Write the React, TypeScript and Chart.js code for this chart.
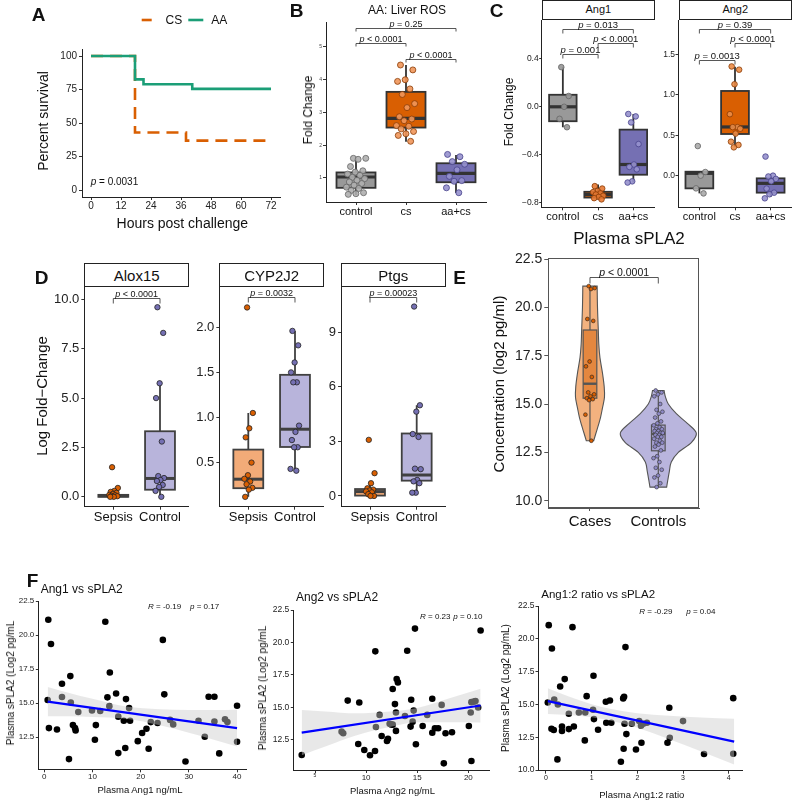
import React, { useEffect, useRef } from "react";
import { Chart, registerables } from "chart.js";

Chart.register(...registerables);

const FONT = "'Liberation Sans', Arial, Helvetica, sans-serif";
const CW = 792;
const CH = 800;

// ======================= DATA =======================
// ---- A: survival ----
const survHourTicks = [0, 12, 24, 36, 48, 60, 72];
const survPctTicks = [0, 25, 50, 75, 100];
const csHours = [0, 17.6, 38, 72];
const csSurvival = [100, 43, 37, 37];
const aaHours = [0, 17.6, 21, 40.5, 72];
const aaSurvival = [100, 82.6, 79, 75.5, 75.5];

// ---- B: AA liver ROS ----
const treatGroups = ["control", "cs", "aa+cs"];
const rosTicks = [1, 2, 3, 4, 5];
const rosControl = [1.6, 1.6, 1.57, 1.35, 1.22, 1.18, 1.12, 1.08, 1.02, 0.98, 0.93, 0.88, 0.83, 0.78, 0.72, 0.68, 0.62, 0.55, 0.52, 0.5];
const rosCs = [4.45, 4.3, 4.0, 3.95, 3.72, 3.55, 3.27, 3.15, 2.87, 2.8, 2.75, 2.6, 2.58, 2.5, 2.42, 2.35, 2.3, 2.12];
const rosAaCs = [1.72, 1.65, 1.5, 1.42, 1.25, 1.05, 0.92, 0.9, 0.7, 0.55];
const rosQ1 = [0.7, 2.54, 0.87];
const rosMedian = [1.03, 2.82, 1.14];
const rosQ3 = [1.17, 3.63, 1.45];
const rosLow = [0.48, 2.11, 0.54];
const rosHigh = [1.57, 4.45, 1.7];
const rosBrackets = [
  { from: 0, to: 2, y: 5.57, text: "= 0.25" },
  { from: 0, to: 1, y: 5.11, text: "< 0.0001" },
  { from: 1, to: 2, y: 4.62, text: "< 0.0001" },
];

// ---- C: Ang1 / Ang2 ----
const ang1Ticks = [-0.8, -0.4, 0, 0.4];
const ang1TickLabels = ["\u22120.8", "\u22120.4", "0.0", "0.4"];
const ang1Control = [0.33, 0.09, 0.0, -0.1, -0.17];
const ang1Cs = [-0.66, -0.68, -0.7, -0.71, -0.72, -0.73, -0.74, -0.75, -0.76, -0.77];
const ang1AaCs = [-0.06, -0.08, -0.13, -0.31, -0.48, -0.5, -0.52, -0.62, -0.63];
const ang1Q1 = [-0.12, -0.755, -0.565];
const ang1Median = [0.0, -0.73, -0.48];
const ang1Q3 = [0.1, -0.707, -0.19];
const ang1Low = [-0.17, -0.77, -0.63];
const ang1High = [0.33, -0.646, -0.06];
const ang1Brackets = [
  { from: 0, to: 2, y: 0.643, text: "= 0.013" },
  { from: 1, to: 2, y: 0.527, text: "< 0.0001" },
  { from: 0, to: 1, y: 0.436, text: "= 0.001" },
];

const ang2Ticks = [0, 0.5, 1.0, 1.5];
const ang2TickLabels = ["0.0", "0.5", "1.0", "1.5"];
const ang2Control = [0.366, 0.045, 0.0, -0.157, -0.219];
const ang2Cs = [1.35, 1.31, 1.13, 0.76, 0.6, 0.6, 0.58, 0.52, 0.42, 0.38, 0.35];
const ang2AaCs = [0.236, 0.0, -0.01, -0.04, -0.07, -0.16, -0.21, -0.23, -0.28];
const ang2Q1 = [-0.157, 0.515, -0.21];
const ang2Median = [0.029, 0.602, -0.095];
const ang2Q3 = [0.049, 1.047, -0.033];
const ang2Low = [-0.219, 0.358, -0.26];
const ang2High = [0.049, 1.347, 0.02];
const ang2Brackets = [
  { from: 0, to: 2, y: 1.81, text: "= 0.39" },
  { from: 1, to: 2, y: 1.636, text: "< 0.0001" },
  { from: 0, to: 1, y: 1.43, text: "= 0.0013" },
];

// ---- D: Alox15 / CYP2J2 / Ptgs ----
const sepsisGroups = ["Sepsis", "Control"];
const alox15Ticks = [0, 2.5, 5, 7.5, 10];
const alox15TickLabels = ["0.0", "2.5", "5.0", "7.5", "10.0"];
const alox15Sepsis = [1.5, 0.45, 0.3, 0.25, 0.2, 0.15, 0.1, 0.08, 0.05, 0.03, 0.0, 0.0];
const alox15Control = [9.6, 8.3, 5.75, 5.0, 2.8, 1.05, 0.95, 0.85, 0.8, 0.6, 0.5, 0.3, 0.0];
const alox15Q1 = [0.0, 0.36];
const alox15Median = [0.05, 0.93];
const alox15Q3 = [0.1, 3.32];
const alox15Low = [0.0, 0.0];
const alox15High = [0.2, 5.75];
const alox15Brackets = [{ from: 0, to: 1, y: 10.09, text: "< 0.0001" }];

const cypTicks = [0.5, 1.0, 1.5, 2.0];
const cypTickLabels = ["0.5", "1.0", "1.5", "2.0"];
const cypSepsis = [2.22, 1.05, 0.88, 0.78, 0.5, 0.36, 0.32, 0.29, 0.26, 0.22, 0.2, 0.12];
const cypControl = [1.96, 1.8, 1.61, 1.5, 1.39, 1.39, 0.91, 0.84, 0.75, 0.67, 0.67, 0.43, 0.41];
const cypQ1 = [0.216, 0.673];
const cypMedian = [0.316, 0.87];
const cypQ3 = [0.644, 1.473];
const cypLow = [0.12, 0.41];
const cypHigh = [1.05, 1.96];
const cypBrackets = [{ from: 0, to: 1, y: 2.34, text: "= 0.0032" }];

const ptgsTicks = [0, 3, 6, 9];
const ptgsTickLabels = ["0", "3", "6", "9"];
const ptgsSepsis = [3.08, 1.25, 0.7, 0.42, 0.35, 0.3, 0.25, 0.2, 0.1, 0.0, 0.0];
const ptgsControl = [10.4, 4.98, 4.63, 3.4, 3.24, 1.5, 1.47, 0.88, 0.8, 0.7, 0.18, 0.18];
const ptgsQ1 = [0.02, 0.84];
const ptgsMedian = [0.24, 1.15];
const ptgsQ3 = [0.38, 3.43];
const ptgsLow = [0.0, 0.18];
const ptgsHigh = [0.75, 4.98];
const ptgsBrackets = [{ from: 0, to: 1, y: 10.94, text: "= 0.00023" }];

// ---- E: plasma sPLA2 ----
const plasmaGroups = ["Cases", "Controls"];
const plasmaTicks = [10, 12.5, 15, 17.5, 20, 22.5];
const plasmaTickLabels = ["10.0", "12.5", "15.0", "17.5", "20.0", "22.5"];
const plasmaCases = [21.1, 21.0, 20.95, 19.4, 19.3, 17.2, 16.95, 16.4, 15.6, 15.5, 15.4, 15.3, 15.25, 15.2, 14.45, 13.1];
const plasmaControls = [15.7, 15.6, 15.5, 15.4, 15.0, 14.7, 14.6, 14.5, 14.3, 14.1, 14.0, 13.9, 13.8, 13.7, 13.7, 13.6, 13.6, 13.5, 13.5, 13.5, 13.4, 13.4, 13.3, 13.3, 13.2, 13.1, 13.0, 13.0, 12.9, 12.8, 12.6, 12.3, 12.2, 12.0, 11.7, 11.6, 11.3, 11.2, 10.9, 10.7];
const plasmaQ1 = [15.3, 12.58];
const plasmaMedian = [16.05, 13.45];
const plasmaQ3 = [18.83, 13.91];
const plasmaLow = [13.1, 10.7];
const plasmaHigh = [21.1, 15.7];
const casesDensityLevels = [13.1, 13.5, 13.75, 14.3, 14.8, 15.35, 15.9, 16.6, 17.4, 18.1, 18.8, 20.0, 21.1];
const casesDensityWidth = [0.054, 0.088, 0.11, 0.154, 0.183, 0.212, 0.208, 0.183, 0.146, 0.129, 0.122, 0.11, 0.105];
const controlsDensityLevels = [10.7, 11.0, 11.5, 12.0, 12.5, 13.0, 13.5, 14.0, 14.5, 15.0, 15.4, 15.7];
const controlsDensityWidth = [0.122, 0.136, 0.161, 0.19, 0.293, 0.483, 0.556, 0.425, 0.264, 0.146, 0.102, 0.085];
const plasmaBrackets = [{ from: 0, to: 1, y: 21.58, text: "< 0.0001" }];

// ---- F: correlations ----
const splaTicks = [12.5, 15, 17.5, 20, 22.5];
const splaTickLabels = ["12.5", "15.0", "17.5", "20.0", "22.5"];
const splaTicks3 = [10, 12.5, 15, 17.5, 20, 22.5];
const splaTickLabels3 = ["10.0", "12.5", "15.0", "17.5", "20.0", "22.5"];

const ang1NgTicks = [0, 10, 20, 30, 40];
const ang1Ng = [0.83, 1.39, 0.7, 0.96, 2.63, 3.67, 3.67, 5.12, 5.4, 5.5, 5.94, 6.37, 6.5, 7.05, 9.9, 10.5, 10.7, 11.6, 12.66, 13.1, 13.6, 13.5, 14.9, 15.35, 15.35, 16.5, 16.95, 16.8, 17.6, 17.8, 19.4, 20.3, 21.2, 21.65, 22.1, 23.5, 24.6, 24.9, 26.1, 26.75, 29.3, 32.0, 33.3, 34.1, 35.3, 36.3, 35.3, 37.5, 38.0, 40.0, 40.0];
const ang1Spla = [21.12, 19.34, 15.22, 13.16, 13.06, 16.42, 15.44, 10.88, 16.98, 15.04, 13.38, 13.16, 12.99, 14.34, 14.46, 12.3, 13.38, 14.41, 20.98, 15.42, 17.25, 14.77, 15.7, 14.0, 11.32, 13.7, 15.29, 11.7, 14.63, 13.7, 12.2, 12.8, 13.11, 11.64, 13.6, 13.53, 19.64, 15.64, 13.76, 13.43, 10.7, 13.7, 12.52, 15.46, 15.46, 11.3, 13.64, 13.8, 13.6, 14.8, 12.16];
const ang1FitX = [0.7, 40];
const ang1FitY = [15.1, 13.15];
const ang1BandX = [0.7, 5, 10, 17, 24, 30, 35, 40];
const ang1BandLo = [14.02, 14.02, 13.97, 13.84, 13.36, 12.81, 12.32, 11.8];
const ang1BandHi = [16.18, 15.76, 15.31, 14.74, 14.54, 14.49, 14.48, 14.5];

const ang2NgTicks = [5, 10, 15, 20];
const ang2Ng = [3.7, 7.6, 7.76, 8.2, 9.33, 9.23, 9.82, 10.38, 10.9, 10.87, 10.96, 11.32, 11.52, 12.04, 12.14, 12.3, 12.45, 12.6, 12.6, 12.82, 12.92, 12.99, 13.11, 12.92, 13.8, 14.02, 14.35, 14.41, 14.65, 14.55, 14.78, 14.87, 15.53, 15.98, 16.47, 16.47, 16.73, 17.05, 17.39, 17.6, 17.77, 18.4, 20.05, 20.23, 20.3, 20.3, 20.54, 20.7, 20.96, 21.2];
const ang2Spla = [11.34, 13.14, 13.02, 15.53, 15.38, 12.19, 11.73, 11.32, 19.32, 11.65, 13.5, 14.43, 12.81, 12.42, 12.6, 13.74, 13.7, 13.68, 16.42, 15.26, 14.61, 17.19, 16.93, 13.2, 14.35, 19.37, 13.53, 15.59, 14.76, 13.91, 21.07, 12.17, 13.58, 14.43, 15.67, 13.06, 13.4, 13.4, 15.2, 10.7, 13.02, 13.09, 13.58, 14.61, 10.88, 15.41, 15.45, 15.5, 15.0, 20.92];
const ang2FitX = [3.7, 21.2];
const ang2FitY = [13.07, 15.15];
const ang2BandX = [3.7, 6, 9, 12.3, 15, 18, 21.2];
const ang2BandLo = [11.33, 11.99, 12.85, 13.49, 13.86, 13.87, 13.85];
const ang2BandHi = [14.81, 14.69, 14.55, 14.69, 14.96, 15.67, 16.45];

const ratioTicks = [0, 1, 2, 3, 4];
const ratio = [0.06, 0.13, 0.04, 0.18, 0.26, 0.12, 0.17, 0.25, 0.31, 0.41, 0.35, 0.35, 0.5, 0.5, 0.61, 0.58, 0.72, 0.86, 0.85, 0.89, 1.03, 1.05, 1.04, 1.14, 1.31, 1.4, 1.32, 1.43, 1.64, 1.69, 1.71, 1.74, 1.7, 1.72, 1.76, 1.88, 1.97, 2.04, 2.09, 2.08, 2.13, 2.21, 2.66, 2.7, 2.71, 3.0, 3.46, 4.1, 4.1];
const ratioSpla = [21.04, 19.26, 15.15, 15.38, 15.0, 13.15, 13.05, 10.81, 16.37, 16.93, 13.32, 12.97, 14.29, 13.12, 13.32, 20.89, 14.39, 14.39, 12.26, 15.63, 14.59, 13.88, 17.18, 13.07, 15.2, 15.3, 13.6, 13.6, 10.63, 15.46, 15.58, 19.37, 11.62, 13.53, 12.74, 13.53, 11.57, 13.73, 12.08, 13.38, 13.53, 13.6, 12.08, 14.75, 12.46, 13.73, 11.22, 15.48, 11.24];
const ratioFitX = [0.04, 4.12];
const ratioFitY = [15.25, 12.16];
const ratioBandX = [0.04, 0.5, 1.0, 1.4, 2.0, 2.7, 3.4, 4.12];
const ratioBandLo = [14.27, 14.2, 14.02, 13.77, 13.22, 12.34, 11.41, 10.42];
const ratioBandHi = [16.23, 15.6, 15.02, 14.67, 14.32, 14.14, 14.01, 13.9];

// ======================= HELPERS =======================
type Area = { l: number; t: number; r: number; b: number };
type AxisSpec = {
  min: number;
  max: number;
  ticks: number[];
  labels: string[];
  size: number;
  tl?: number;
  pad?: number;
  color?: string;
  line?: string;
  sizeFor?: (v: number) => number;
};
type Bracket = { from: number; to: number; y: number; text: string };

const ORANGE = "#d95f02";
const PURPLE = "#7570b3";
const GREEN = "#1b9e77";

function jitter(k: number): number {
  return ((k * 0.6180339887 + 0.37) % 1) * 2 - 1;
}

// room = size of the scale box (space between canvas edge and plot area)
function makeScale(axis: "x" | "y", a: AxisSpec, room: number) {
  return {
    type: "linear",
    position: axis === "x" ? "bottom" : "left",
    bounds: "data",
    min: a.min,
    max: a.max,
    afterBuildTicks: (s: any) => {
      s.ticks = a.ticks.map((v) => ({ value: v }));
    },
    afterFit: (s: any) => {
      if (axis === "x") s.height = room;
      else s.width = room;
      s.paddingLeft = 0;
      s.paddingRight = 0;
      s.paddingTop = 0;
      s.paddingBottom = 0;
    },
    grid: {
      display: true,
      drawOnChartArea: false,
      drawTicks: true,
      tickLength: a.tl ?? 3,
      color: a.line ?? "#333",
      lineWidth: 1,
    },
    border: { display: true, color: a.line ?? "#222", width: 1 },
    ticks: {
      autoSkip: false,
      maxRotation: 0,
      minRotation: 0,
      padding: a.pad ?? 1,
      color: a.color ?? "#222",
      font: (ctx: any) => ({
        family: FONT,
        size: a.sizeFor && ctx && ctx.tick ? a.sizeFor(ctx.tick.value) : a.size,
      }),
      callback: (_v: any, i: number) => a.labels[i] ?? "",
    },
  };
}

function baseOptions(area: Area, xa: AxisSpec, ya: AxisSpec) {
  return {
    responsive: false,
    maintainAspectRatio: false,
    animation: false,
    events: [],
    devicePixelRatio: 1,
    layout: {
      autoPadding: false,
      padding: { left: 0, top: area.t, right: CW - area.r, bottom: 0 },
    },
    plugins: { legend: { display: false }, tooltip: { enabled: false }, title: { display: false } },
    scales: { x: makeScale("x", xa, CH - area.b), y: makeScale("y", ya, area.l) },
  };
}

function splineThrough(ctx: CanvasRenderingContext2D, pts: number[][]) {
  for (let i = 0; i < pts.length - 1; i++) {
    const p0 = pts[Math.max(0, i - 1)];
    const p1 = pts[i];
    const p2 = pts[i + 1];
    const p3 = pts[Math.min(pts.length - 1, i + 2)];
    ctx.bezierCurveTo(
      p1[0] + (p2[0] - p0[0]) / 6,
      p1[1] + (p2[1] - p0[1]) / 6,
      p2[0] - (p3[0] - p1[0]) / 6,
      p2[1] - (p3[1] - p1[1]) / 6,
      p2[0],
      p2[1]
    );
  }
}

type Violin = { levels: number[]; widths: number[]; fill: string };

type CatSpec = {
  area: Area;
  xMin: number;
  xMax: number;
  cats: string[];
  xSize: number;
  xPad?: number;
  y: AxisSpec;
  groups: number[][];
  q1: number[];
  med: number[];
  q3: number[];
  lo: number[];
  hi: number[];
  boxFill: string[];
  boxHalf: number;
  boxStroke: string;
  boxLw: number;
  medLw: number;
  ptFill: string[];
  ptStroke: string[];
  ptR: number;
  ptLw: number;
  jit: number;
  brackets: Bracket[];
  pSize: number;
  tip: number;
  violins?: Violin[];
  frame?: boolean;
};

function boxPlugin(s: CatSpec) {
  return {
    id: "boxes",
    beforeDatasetsDraw(chart: any) {
      const ctx: CanvasRenderingContext2D = chart.ctx;
      const x = chart.scales.x;
      const y = chart.scales.y;
      ctx.save();
      if (s.violins) {
        s.violins.forEach((v, i) => {
          const right = v.levels.map((lv, k) => [x.getPixelForValue(i + v.widths[k]), y.getPixelForValue(lv)]);
          const left = v.levels
            .map((lv, k) => [x.getPixelForValue(i - v.widths[k]), y.getPixelForValue(lv)])
            .reverse();
          ctx.beginPath();
          ctx.moveTo(right[0][0], right[0][1]);
          splineThrough(ctx, right);
          ctx.lineTo(left[0][0], left[0][1]);
          splineThrough(ctx, left);
          ctx.closePath();
          ctx.fillStyle = v.fill;
          ctx.fill();
          ctx.strokeStyle = "#555";
          ctx.lineWidth = 1.1;
          ctx.stroke();
        });
      }
      for (let i = 0; i < s.q1.length; i++) {
        const xc = x.getPixelForValue(i);
        const xl = x.getPixelForValue(i - s.boxHalf);
        const xr = x.getPixelForValue(i + s.boxHalf);
        const yq1 = y.getPixelForValue(s.q1[i]);
        const yq3 = y.getPixelForValue(s.q3[i]);
        const ym = y.getPixelForValue(s.med[i]);
        const ylo = y.getPixelForValue(s.lo[i]);
        const yhi = y.getPixelForValue(s.hi[i]);
        ctx.strokeStyle = s.boxStroke;
        ctx.lineWidth = s.boxLw;
        ctx.beginPath();
        ctx.moveTo(xc, yhi);
        ctx.lineTo(xc, yq3);
        ctx.moveTo(xc, yq1);
        ctx.lineTo(xc, ylo);
        ctx.stroke();
        ctx.fillStyle = s.boxFill[i];
        ctx.fillRect(xl, yq3, xr - xl, yq1 - yq3);
        ctx.strokeRect(xl, yq3, xr - xl, yq1 - yq3);
        ctx.lineWidth = s.medLw;
        ctx.beginPath();
        ctx.moveTo(xl, ym);
        ctx.lineTo(xr, ym);
        ctx.stroke();
      }
      ctx.restore();
    },
  };
}

function bracketPlugin(list: Bracket[], size: number, tip: number) {
  return {
    id: "brackets",
    afterDatasetsDraw(chart: any) {
      const ctx: CanvasRenderingContext2D = chart.ctx;
      const x = chart.scales.x;
      const y = chart.scales.y;
      ctx.save();
      ctx.strokeStyle = "#444";
      ctx.lineWidth = 0.9;
      ctx.fillStyle = "#111";
      ctx.textAlign = "left";
      ctx.textBaseline = "alphabetic";
      for (const br of list) {
        const xa = x.getPixelForValue(br.from);
        const xb = x.getPixelForValue(br.to);
        const yy = Math.round(y.getPixelForValue(br.y)) + 0.5;
        ctx.beginPath();
        ctx.moveTo(xa, yy + tip);
        ctx.lineTo(xa, yy);
        ctx.lineTo(xb, yy);
        ctx.lineTo(xb, yy + tip);
        ctx.stroke();
        const fI = `italic ${size}px ${FONT}`;
        const fN = `${size}px ${FONT}`;
        ctx.font = fI;
        const w1 = ctx.measureText("p").width;
        const rest = " " + br.text;
        ctx.font = fN;
        const w2 = ctx.measureText(rest).width;
        const sx = (xa + xb) / 2 - (w1 + w2) / 2;
        ctx.font = fI;
        ctx.fillText("p", sx, yy - 2);
        ctx.font = fN;
        ctx.fillText(rest, sx + w1, yy - 2);
      }
      ctx.restore();
    },
  };
}

const framePlugin = {
  id: "frame",
  afterDatasetsDraw(chart: any) {
    const { ctx, chartArea } = chart;
    ctx.save();
    ctx.strokeStyle = "#555";
    ctx.lineWidth = 1;
    ctx.strokeRect(
      Math.round(chartArea.left) + 0.5,
      Math.round(chartArea.top) + 0.5,
      Math.round(chartArea.right - chartArea.left) - 1,
      Math.round(chartArea.bottom - chartArea.top) - 1
    );
    ctx.restore();
  },
};

function catConfig(s: CatSpec) {
  const datasets = s.groups.map((vals, g) => ({
    type: "scatter",
    data: vals.map((v, k) => ({ x: g + jitter(k + g * 3) * s.jit, y: v })),
    pointRadius: s.ptR,
    pointBackgroundColor: s.ptFill[g],
    backgroundColor: s.ptFill[g],
    pointBorderColor: s.ptStroke[g],
    borderColor: s.ptStroke[g],
    pointBorderWidth: s.ptLw,
    showLine: false,
    clip: false,
  }));
  const xAxis: AxisSpec = {
    min: s.xMin,
    max: s.xMax,
    ticks: s.cats.map((_c, i) => i),
    labels: s.cats,
    size: s.xSize,
    pad: s.xPad ?? 0,
    color: "#111",
    line: s.frame ? "#555" : undefined,
  };
  const plugins: any[] = [boxPlugin(s), bracketPlugin(s.brackets, s.pSize, s.tip)];
  if (s.frame) plugins.push(framePlugin);
  return {
    type: "scatter",
    data: { datasets },
    options: baseOptions(s.area, xAxis, s.y),
    plugins,
  };
}

// ---------- Panel builders ----------
const legendPluginA = {
  id: "legendA",
  afterDraw(chart: any) {
    const ctx: CanvasRenderingContext2D = chart.ctx;
    ctx.save();
    ctx.lineWidth = 2.6;
    ctx.strokeStyle = ORANGE;
    ctx.beginPath();
    ctx.moveTo(141.7, 20);
    ctx.lineTo(151.7, 20);
    ctx.stroke();
    ctx.strokeStyle = GREEN;
    ctx.beginPath();
    ctx.moveTo(188.3, 20);
    ctx.lineTo(203.3, 20);
    ctx.stroke();
    ctx.restore();
  },
};

function buildA() {
  const area = { l: 82, t: 49.3, r: 280, b: 197 };
  return {
    type: "line",
    data: {
      datasets: [
        {
          label: "AA",
          data: aaHours.map((h, i) => ({ x: h, y: aaSurvival[i] })),
          stepped: true,
          borderColor: GREEN,
          borderWidth: 2.6,
          pointRadius: 0,
          fill: false,
          order: 1,
        },
        {
          label: "CS",
          data: csHours.map((h, i) => ({ x: h, y: csSurvival[i] })),
          stepped: true,
          borderColor: ORANGE,
          borderWidth: 2.6,
          borderDash: [12, 7],
          pointRadius: 0,
          fill: false,
          order: 2,
        },
      ],
    },
    options: baseOptions(
      area,
      { min: -3.6, max: 75.6, ticks: survHourTicks, labels: survHourTicks.map(String), size: 10, pad: 0 },
      { min: -5, max: 105, ticks: survPctTicks, labels: survPctTicks.map(String), size: 10, pad: 2 }
    ),
    plugins: [legendPluginA],
  };
}

const fillsTreat = ["#999999", ORANGE, PURPLE];
const ptFillTreat = ["rgba(175,175,175,0.9)", "rgba(240,150,90,0.9)", "rgba(150,145,205,0.9)"];
const ptStrokeTreat = ["#666", "#8a3b05", "#48438c"];

function buildB() {
  return catConfig({
    area: { l: 326, t: 22, r: 486, b: 202 },
    xMin: -0.6,
    xMax: 2.6,
    cats: treatGroups,
    xSize: 11,
    y: { min: 0.267, max: 5.763, ticks: rosTicks, labels: rosTicks.map(String), size: 5, pad: 1, color: "#444" },
    groups: [rosControl, rosCs, rosAaCs],
    q1: rosQ1,
    med: rosMedian,
    q3: rosQ3,
    lo: rosLow,
    hi: rosHigh,
    boxFill: fillsTreat,
    boxHalf: 0.39,
    boxStroke: "#333",
    boxLw: 1.8,
    medLw: 3.2,
    ptFill: ptFillTreat,
    ptStroke: ptStrokeTreat,
    ptR: 3,
    ptLw: 0.8,
    jit: 0.2,
    brackets: rosBrackets,
    pSize: 9,
    tip: 3,
  });
}

function buildC1() {
  return catConfig({
    area: { l: 541.7, t: 20, r: 654.5, b: 207.3 },
    xMin: -0.6,
    xMax: 2.6,
    cats: treatGroups,
    xSize: 11,
    y: { min: -0.836, max: 0.722, ticks: ang1Ticks, labels: ang1TickLabels, size: 8.5, tl: 2.5, pad: 0.5 },
    groups: [ang1Control, ang1Cs, ang1AaCs],
    q1: ang1Q1,
    med: ang1Median,
    q3: ang1Q3,
    lo: ang1Low,
    hi: ang1High,
    boxFill: fillsTreat,
    boxHalf: 0.39,
    boxStroke: "#333",
    boxLw: 1.8,
    medLw: 3.2,
    ptFill: ["rgba(150,150,150,0.9)", "rgba(230,120,50,0.9)", "rgba(150,145,205,0.9)"],
    ptStroke: ptStrokeTreat,
    ptR: 2.8,
    ptLw: 0.8,
    jit: 0.17,
    brackets: ang1Brackets,
    pSize: 9.5,
    tip: 4,
  });
}

function buildC2() {
  return catConfig({
    area: { l: 678, t: 20, r: 792, b: 207.3 },
    xMin: -0.6,
    xMax: 2.6,
    cats: treatGroups,
    xSize: 11,
    y: { min: -0.391, max: 1.924, ticks: ang2Ticks, labels: ang2TickLabels, size: 8.5, tl: 2.5, pad: 0.5 },
    groups: [ang2Control, ang2Cs, ang2AaCs],
    q1: ang2Q1,
    med: ang2Median,
    q3: ang2Q3,
    lo: ang2Low,
    hi: ang2High,
    boxFill: fillsTreat,
    boxHalf: 0.39,
    boxStroke: "#333",
    boxLw: 1.8,
    medLw: 3.2,
    ptFill: ["rgba(170,170,170,0.9)", "rgba(235,140,70,0.9)", "rgba(150,145,205,0.9)"],
    ptStroke: ptStrokeTreat,
    ptR: 2.8,
    ptLw: 0.8,
    jit: 0.17,
    brackets: ang2Brackets,
    pSize: 9.5,
    tip: 4,
  });
}

const dFills = ["#f2ab78", "#b8b4db"];
const dPtFill = [ORANGE, PURPLE];
const dPtStroke = ["#222", "#222"];

function dSpec(area: Area, y: AxisSpec, groups: number[][], q1: number[], med: number[], q3: number[], lo: number[], hi: number[], brackets: Bracket[]): CatSpec {
  return {
    area,
    xMin: -0.62,
    xMax: 1.62,
    cats: sepsisGroups,
    xSize: 13,
    y,
    groups,
    q1,
    med,
    q3,
    lo,
    hi,
    boxFill: dFills,
    boxHalf: 0.32,
    boxStroke: "#404040",
    boxLw: 1.8,
    medLw: 3,
    ptFill: dPtFill,
    ptStroke: dPtStroke,
    ptR: 2.7,
    ptLw: 0.8,
    jit: 0.1,
    brackets,
    pSize: 9,
    tip: 5,
  };
}

function buildD1() {
  return catConfig(
    dSpec(
      { l: 84.35, t: 286.7, r: 188.96, b: 506.7 },
      { min: -0.5, max: 10.64, ticks: alox15Ticks, labels: alox15TickLabels, size: 13, pad: 2 },
      [alox15Sepsis, alox15Control],
      alox15Q1,
      alox15Median,
      alox15Q3,
      alox15Low,
      alox15High,
      alox15Brackets
    )
  );
}

function buildD2() {
  return catConfig(
    dSpec(
      { l: 219.35, t: 286.7, r: 323.95, b: 506.7 },
      { min: 0.011, max: 2.45, ticks: cypTicks, labels: cypTickLabels, size: 13, pad: 2 },
      [cypSepsis, cypControl],
      cypQ1,
      cypMedian,
      cypQ3,
      cypLow,
      cypHigh,
      cypBrackets
    )
  );
}

function buildD3() {
  return catConfig(
    dSpec(
      { l: 341.05, t: 286.7, r: 445.65, b: 506.7 },
      { min: -0.59, max: 11.49, ticks: ptgsTicks, labels: ptgsTickLabels, size: 13, pad: 2 },
      [ptgsSepsis, ptgsControl],
      ptgsQ1,
      ptgsMedian,
      ptgsQ3,
      ptgsLow,
      ptgsHigh,
      ptgsBrackets
    )
  );
}

function buildE() {
  return catConfig({
    area: { l: 548.3, t: 258.3, r: 699.3, b: 508 },
    xMin: -0.61,
    xMax: 1.6,
    cats: plasmaGroups,
    xSize: 15,
    xPad: 2,
    y: { min: 9.62, max: 22.54, ticks: plasmaTicks, labels: plasmaTickLabels, size: 14, tl: 4, pad: 2, line: "#555" },
    groups: [plasmaCases, plasmaControls],
    q1: plasmaQ1,
    med: plasmaMedian,
    q3: plasmaQ3,
    lo: plasmaLow,
    hi: plasmaHigh,
    boxFill: ["#e4873f", "#a7a2d2"],
    boxHalf: 0.1,
    boxStroke: "#555",
    boxLw: 1.2,
    medLw: 2.4,
    ptFill: [ORANGE, "#8e89c6"],
    ptStroke: ["#222", "#333"],
    ptR: 1.9,
    ptLw: 0.6,
    jit: 0.07,
    brackets: plasmaBrackets,
    pSize: 10.5,
    tip: 6,
    violins: [
      { levels: casesDensityLevels, widths: casesDensityWidth, fill: "#f3b27f" },
      { levels: controlsDensityLevels, widths: controlsDensityWidth, fill: "#b9b5dd" },
    ],
    frame: true,
  });
}

function scatterConfig(
  area: Area,
  xa: AxisSpec,
  ya: AxisSpec,
  xs: number[],
  ys: number[],
  fitX: number[],
  fitY: number[],
  bandX: number[],
  bandLo: number[],
  bandHi: number[]
) {
  return {
    type: "scatter",
    data: {
      datasets: [
        {
          type: "line",
          data: fitX.map((v, i) => ({ x: v, y: fitY[i] })),
          borderColor: "#0000ff",
          borderWidth: 2.2,
          pointRadius: 0,
          fill: false,
          order: 1,
        },
        {
          type: "line",
          data: bandX.map((v, i) => ({ x: v, y: bandLo[i] })),
          borderColor: "rgba(0,0,0,0)",
          borderWidth: 0,
          pointRadius: 0,
          fill: false,
          cubicInterpolationMode: "monotone",
          order: 2,
        },
        {
          type: "line",
          data: bandX.map((v, i) => ({ x: v, y: bandHi[i] })),
          borderColor: "rgba(0,0,0,0)",
          borderWidth: 0,
          pointRadius: 0,
          fill: "-1",
          backgroundColor: "rgba(205,205,205,0.45)",
          cubicInterpolationMode: "monotone",
          order: 2,
        },
        {
          type: "scatter",
          data: xs.map((v, i) => ({ x: v, y: ys[i] })),
          pointRadius: 3.3,
          pointBackgroundColor: "#000",
          backgroundColor: "#000",
          pointBorderWidth: 0,
          borderWidth: 0,
          order: 3,
          clip: false,
        },
      ],
    },
    options: baseOptions(area, xa, ya),
  };
}

function buildF1() {
  return scatterConfig(
    { l: 38.3, t: 601, r: 246.7, b: 769.3 },
    { min: -1.245, max: 42, ticks: ang1NgTicks, labels: ang1NgTicks.map(String), size: 8, pad: 0 },
    { min: 10.13, max: 22.5, ticks: splaTicks, labels: splaTickLabels, size: 8, tl: 2.5, pad: 1.5 },
    ang1Ng,
    ang1Spla,
    ang1FitX,
    ang1FitY,
    ang1BandX,
    ang1BandLo,
    ang1BandHi
  );
}

function buildF2() {
  return scatterConfig(
    { l: 293.3, t: 610, r: 489.3, b: 770 },
    { min: 2.877, max: 22.05, ticks: ang2NgTicks, labels: ang2NgTicks.map(String), size: 8, pad: 0, sizeFor: (v) => (v === 5 ? 5 : 8) },
    { min: 10.19, max: 22.5, ticks: splaTicks, labels: splaTickLabels, size: 8.5, tl: 2.5, pad: 1.5 },
    ang2Ng,
    ang2Spla,
    ang2FitX,
    ang2FitY,
    ang2BandX,
    ang2BandLo,
    ang2BandHi
  );
}

function buildF3() {
  return scatterConfig(
    { l: 538, t: 606, r: 742.7, b: 770.7 },
    { min: -0.175, max: 4.307, ticks: ratioTicks, labels: ratioTicks.map(String), size: 7, pad: 0 },
    { min: 9.95, max: 22.5, ticks: splaTicks3, labels: splaTickLabels3, size: 8.5, tl: 2.5, pad: 1 },
    ratio,
    ratioSpla,
    ratioFitX,
    ratioFitY,
    ratioBandX,
    ratioBandLo,
    ratioBandHi
  );
}

// ======================= COMPONENTS =======================
function ChartLayer({ build }: { build: () => any }) {
  const ref = useRef<HTMLCanvasElement | null>(null);
  useEffect(() => {
    if (!ref.current) return;
    const chart = new Chart(ref.current, build());
    return () => chart.destroy();
  }, [build]);
  return (
    <canvas
      ref={ref}
      width={CW}
      height={CH}
      style={{ position: "absolute", left: 0, top: 0, width: CW, height: CH, pointerEvents: "none" }}
    />
  );
}

function T(props: {
  x: number;
  y: number;
  size: number;
  children: React.ReactNode;
  rot?: number;
  bold?: boolean;
  anchor?: "start" | "middle" | "end";
}) {
  const { x, y, size, children, rot, bold, anchor = "middle" } = props;
  const tx = anchor === "start" ? "0%" : anchor === "end" ? "-100%" : "-50%";
  return (
    <div
      style={{
        position: "absolute",
        left: x,
        top: y,
        fontSize: size,
        fontWeight: bold ? 700 : 400,
        lineHeight: 1,
        whiteSpace: "nowrap",
        color: "#111",
        transform: `translate(${tx}, -50%)` + (rot ? ` rotate(${rot}deg)` : ""),
      }}
    >
      {children}
    </div>
  );
}

function Strip(props: { l: number; r: number; t: number; b: number; size: number; label: string }) {
  const { l, r, t, b, size, label } = props;
  return (
    <div
      style={{
        position: "absolute",
        left: l,
        top: t,
        width: r - l,
        height: b - t,
        boxSizing: "border-box",
        border: "1px solid #222",
        background: "#fff",
        display: "flex",
        alignItems: "center",
        justifyContent: "center",
        fontSize: size,
        lineHeight: 1,
        color: "#111",
      }}
    >
      {label}
    </div>
  );
}

const builders = [buildA, buildB, buildC1, buildC2, buildD1, buildD2, buildD3, buildE, buildF1, buildF2, buildF3];

export default function App() {
  return (
    <div
      style={{
        position: "absolute",
        left: 0,
        top: 0,
        width: CW,
        height: CH,
        background: "#fff",
        fontFamily: FONT,
        overflow: "hidden",
      }}
    >
      {builders.map((b, i) => (
        <ChartLayer key={i} build={b} />
      ))}

      {/* Panel letters */}
      <T x={38.5} y={13.5} size={19} bold>A</T>
      <T x={296.5} y={10} size={19} bold>B</T>
      <T x={496.5} y={9.5} size={19} bold>C</T>
      <T x={41.5} y={276.5} size={19} bold>D</T>
      <T x={459.5} y={276.5} size={19} bold>E</T>
      <T x={32.5} y={580} size={19} bold>F</T>

      {/* A */}
      <T x={173.8} y={20} size={12}>CS</T>
      <T x={219.2} y={20} size={12}>AA</T>
      <T x={42.5} y={121} size={14} rot={-90}>Percent survival</T>
      <T x={182.3} y={223} size={14}>Hours post challenge</T>
      <T x={90.7} y={181.7} size={10} anchor="start">
        <i>p</i> = 0.0031
      </T>

      {/* B */}
      <T x={407} y={10} size={12}>AA: Liver ROS</T>
      <T x={308.3} y={110} size={12} rot={-90}>Fold Change</T>

      {/* C */}
      <Strip l={541.7} r={655} t={0} b={19.5} size={11} label="Ang1" />
      <Strip l={678.5} r={792} t={0} b={19.5} size={11} label="Ang2" />
      <T x={509} y={112} size={12} rot={-90}>Fold Change</T>

      {/* D */}
      <Strip l={84.35} r={188.96} t={263.3} b={287} size={15} label="Alox15" />
      <Strip l={219.35} r={323.95} t={263.3} b={287} size={15} label="CYP2J2" />
      <Strip l={341.05} r={445.65} t={263.3} b={287} size={15} label="Ptgs" />
      <T x={41} y={396} size={15} rot={-90}>{"Log Fold\u2212Change"}</T>

      {/* E */}
      <T x={629} y={238} size={17}>Plasma sPLA2</T>
      <T x={497.5} y={384} size={15} rot={-90}>Concentration (log2 pg/ml)</T>

      {/* F */}
      <T x={40.7} y={589.3} size={12} anchor="start">Ang1 vs sPLA2</T>
      <T x={296} y={597.3} size={12} anchor="start">Ang2 vs sPLA2</T>
      <T x={541.3} y={595} size={11.5} anchor="start">Ang1:2 ratio vs sPLA2</T>
      <T x={140} y={790} size={9.5}>Plasma Ang1 ng/mL</T>
      <T x={392.5} y={790.7} size={9.5}>Plasma Ang2 ng/mL</T>
      <T x={641.8} y={794.5} size={9.5}>Plasma Ang1:2 ratio</T>
      <T x={11} y={683} size={10} rot={-90}>Plasma sPLA2 (Log2 pg/mL</T>
      <T x={263} y={688} size={10} rot={-90}>Plasma sPLA2 (Log2 pg/mL</T>
      <T x={506} y={688} size={10} rot={-90}>Plasma sPLA2 (Log2 pg/mL)</T>
      <T x={148} y={606.7} size={8} anchor="start"><i>R</i> = -0.19</T>
      <T x={190} y={606.7} size={8} anchor="start"><i>p</i> = 0.17</T>
      <T x={420} y={617.3} size={8} anchor="start"><i>R</i> = 0.23</T>
      <T x={453.3} y={617.3} size={8} anchor="start"><i>p</i> = 0.10</T>
      <T x={639.3} y={612.3} size={8} anchor="start"><i>R</i> = -0.29</T>
      <T x={686.3} y={612.3} size={8} anchor="start"><i>p</i> = 0.04</T>
    </div>
  );
}
